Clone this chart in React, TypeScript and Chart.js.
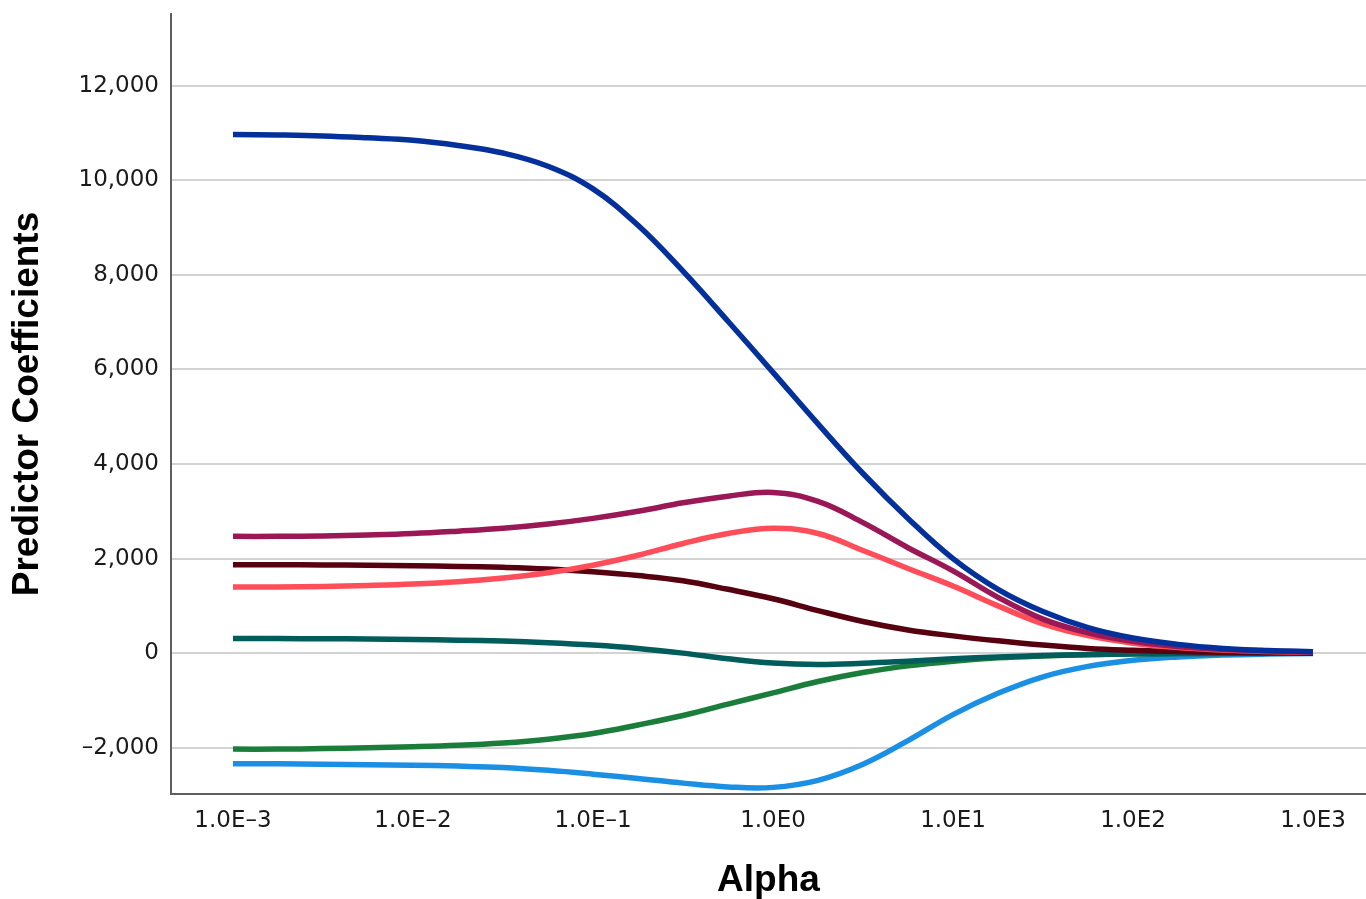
import React, { useEffect, useRef } from "react";
import { Chart, registerables } from "chart.js";

Chart.register(...registerables);

const ALPHA = [
  0.001, 0.001778, 0.003162, 0.005623, 0.01, 0.01778, 0.03162, 0.05623, 0.1,
  0.1778, 0.3162, 0.5623, 1, 1.778, 3.162, 5.623, 10, 17.78, 31.62, 56.23, 100,
  177.8, 316.2, 562.3, 1000,
];

const NAVY = [
  10970, 10960, 10940, 10900, 10850, 10740, 10580, 10300, 9820, 9050, 8080,
  7020, 5940, 4850, 3800, 2850, 2000, 1350, 880, 540, 320, 185, 100, 55, 30,
];
const PURPLE = [
  2470, 2470, 2480, 2500, 2530, 2580, 2640, 2730, 2850, 3000, 3180, 3320, 3400,
  3210, 2760, 2230, 1740, 1180, 720, 430, 250, 140, 80, 45, 25,
];
const CORAL = [
  1400, 1400, 1410, 1430, 1460, 1510, 1590, 1700, 1860, 2070, 2320, 2530, 2640,
  2530, 2170, 1790, 1420, 1000, 620, 370, 210, 120, 65, 35, 20,
];
const MAROON = [
  1870, 1870, 1865, 1860, 1850, 1835, 1815, 1780, 1720, 1640, 1530, 1350, 1150,
  900, 670, 490, 365, 260, 170, 100, 60, 32, 16, 8, 5,
];
const TEAL = [
  310, 308, 305, 300, 290, 275, 255, 220, 170, 100, 0, -120, -210, -240, -215,
  -170, -120, -80, -50, -30, -15, -8, -4, -2, -1,
];
const GREEN = [
  -2030, -2030, -2020, -2000, -1980, -1950, -1900, -1820, -1700, -1520, -1320,
  -1080, -840, -600, -410, -270, -170, -100, -60, -35, -20, -10, -6, -3, -2,
];
const LIGHTBLUE = [
  -2340, -2340, -2350, -2360, -2370, -2390, -2420, -2480, -2560, -2650, -2750,
  -2830, -2840, -2690, -2350, -1850, -1300, -850, -500, -280, -150, -80, -40,
  -20, -10,
];

const X_TICKS = [0.001, 0.01, 0.1, 1, 10, 100, 1000];
const X_TICK_LABELS = ["1.0E\u20133", "1.0E\u20132", "1.0E\u20131", "1.0E0", "1.0E1", "1.0E2", "1.0E3"];
const Y_TICKS = [-2000, 0, 2000, 4000, 6000, 8000, 10000, 12000];

const SERIES = [
  { name: "navy", values: NAVY, color: "#04309b" },
  { name: "purple", values: PURPLE, color: "#9a1856" },
  { name: "coral", values: CORAL, color: "#ff4d59" },
  { name: "maroon", values: MAROON, color: "#570010" },
  { name: "teal", values: TEAL, color: "#015c5c" },
  { name: "green", values: GREEN, color: "#1a7d3a" },
  { name: "lightblue", values: LIGHTBLUE, color: "#1b8fe4" },
];

export default function App() {
  const ref = useRef<HTMLCanvasElement | null>(null);

  useEffect(() => {
    const canvas = ref.current;
    if (!canvas) return;
    const chart = new Chart(canvas, {
      type: "line",
      data: {
        datasets: SERIES.map((s) => ({
          label: s.name,
          data: ALPHA.map((a, i) => ({ x: a, y: s.values[i] })),
          borderColor: s.color,
          backgroundColor: s.color,
          borderWidth: 5.5,
          pointRadius: 0,
          tension: 0.4,
          borderCapStyle: "butt",
          borderJoinStyle: "round",
          fill: false,
        })),
      },
      options: {
        animation: false,
        responsive: false,
        maintainAspectRatio: false,
        layout: { autoPadding: false, padding: { top: 14, left: 0, right: 0, bottom: 0 } },
        plugins: {
          legend: { display: false },
          tooltip: { enabled: false },
        },
        scales: {
          x: {
            type: "logarithmic",
            min: Math.pow(10, -3.3444),
            max: Math.pow(10, 3.2944),
            afterBuildTicks: (scale: any) => {
              scale.ticks = X_TICKS.map((v) => ({ value: v }));
            },
            afterFit: (scale: any) => {
              scale.height = 105;
              scale.paddingLeft = 0;
              scale.paddingRight = 0;
            },
            grid: { display: false, drawTicks: false },
            border: { display: true, color: "#5e5e5e", width: 2 },
            ticks: {
              autoSkip: false,
              maxRotation: 0,
              padding: 13,
              color: "#1a1a1a",
              font: { family: "DejaVu Sans", size: 23 },
              callback: (value: any) => {
                const idx = X_TICKS.findIndex((t) => Math.abs(Math.log10(t) - Math.log10(Number(value))) < 1e-6);
                return idx >= 0 ? X_TICK_LABELS[idx] : "";
              },
            },
            title: {
              display: true,
              text: "Alpha",
              color: "#000",
              font: { family: "Liberation Sans", size: 37, weight: "bold", lineHeight: 1 },
              padding: { top: 0, bottom: 0 },
            },
          },
          y: {
            type: "linear",
            min: -2980,
            max: 13520,
            afterBuildTicks: (scale: any) => {
              scale.ticks = Y_TICKS.map((v) => ({ value: v }));
            },
            afterFit: (scale: any) => {
              scale.width = 171;
              scale.paddingTop = 0;
              scale.paddingBottom = 0;
            },
            grid: { display: true, color: "#d3d3d3", lineWidth: 2, drawTicks: false },
            border: { display: true, color: "#5e5e5e", width: 2 },
            ticks: {
              padding: 12,
              color: "#1a1a1a",
              font: { family: "DejaVu Sans", size: 23 },
              callback: (value: any) => {
                const v = Number(value);
                const s = Math.abs(v).toLocaleString("en-US");
                return v < 0 ? "\u2013" + s : s;
              },
            },
            title: {
              display: true,
              text: "Predictor Coefficients",
              color: "#000",
              font: { family: "Liberation Sans", size: 37, weight: "bold", lineHeight: 1 },
              padding: { top: 9, bottom: 0 },
            },
          },
        },
      },
    });
    return () => chart.destroy();
  }, []);

  return (
    <div style={{ position: "fixed", left: 0, top: 0, width: 1366, height: 899, background: "#fff" }}>
      <canvas ref={ref} width={1366} height={899} style={{ display: "block" }} />
    </div>
  );
}
